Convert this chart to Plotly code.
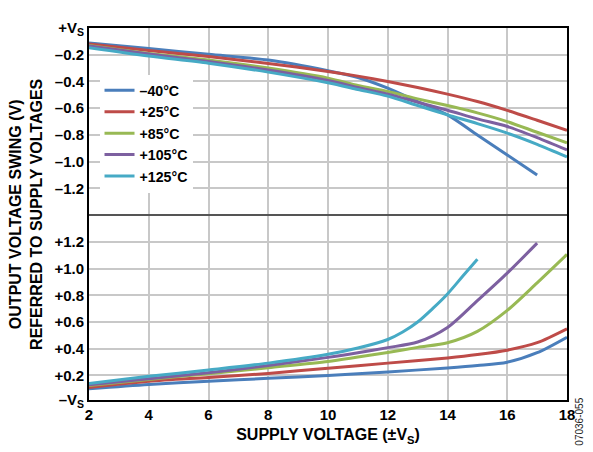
import plotly.graph_objects as go

# ---- data ----
x_up = [2, 4, 6, 8, 10, 11, 12, 13, 14, 15, 16, 17, 18]
up_m40 = [-0.112, -0.153, -0.197, -0.24, -0.32, -0.37, -0.45, -0.55, -0.65, -0.80, -0.95, -1.10]
up_p25 = [-0.12, -0.168, -0.214, -0.265, -0.325, -0.36, -0.40, -0.445, -0.495, -0.55, -0.616, -0.69, -0.766]
up_p85 = [-0.13, -0.19, -0.24, -0.30, -0.375, -0.43, -0.475, -0.53, -0.58, -0.635, -0.70, -0.78, -0.859]
up_p105 = [-0.135, -0.195, -0.25, -0.315, -0.393, -0.445, -0.495, -0.555, -0.615, -0.68, -0.737, -0.82, -0.912]
up_p125 = [-0.148, -0.21, -0.263, -0.33, -0.41, -0.46, -0.51, -0.58, -0.65, -0.715, -0.786, -0.87, -0.964]

x_lo = [2, 4, 6, 8, 10, 12, 14, 15, 16, 17, 18]
lo_m40 = [0.10, 0.132, 0.156, 0.178, 0.200, 0.226, 0.256, 0.274, 0.299, 0.37, 0.486]
lo_p25 = [0.11, 0.156, 0.185, 0.215, 0.254, 0.292, 0.331, 0.356, 0.389, 0.445, 0.549]
x_lo85 = [2, 4, 6, 8, 10, 11, 12, 13, 14, 15, 16, 17, 18]
lo_p85 = [0.125, 0.17, 0.212, 0.258, 0.305, 0.338, 0.372, 0.41, 0.445, 0.53, 0.687, 0.893, 1.106]
x_lo105 = [2, 4, 6, 8, 10, 11, 12, 13, 14, 15, 16, 17]
lo_p105 = [0.13, 0.175, 0.22, 0.275, 0.335, 0.37, 0.408, 0.45, 0.559, 0.76, 0.966, 1.19]
x_lo125 = [2, 4, 6, 8, 10, 11, 12, 12.5, 13, 13.5, 14, 14.5, 15]
lo_p125 = [0.14, 0.193, 0.241, 0.292, 0.358, 0.405, 0.469, 0.525, 0.60, 0.70, 0.81, 0.94, 1.07]

names = ["–40°C", "+25°C", "+85°C", "+105°C", "+125°C"]
colors = ["#4a7ebb", "#be4b48", "#98b954", "#7d60a0", "#46aac5"]
upper = [(x_up, up_m40), (x_up, up_p25), (x_up, up_p85), (x_up, up_p105), (x_up, up_p125)]
lower = [(x_lo, lo_m40), (x_lo, lo_p25), (x_lo85, lo_p85), (x_lo105, lo_p105), (x_lo125, lo_p125)]

x_ticks = [2, 4, 6, 8, 10, 12, 14, 16, 18]
up_tickvals = [0, -0.2, -0.4, -0.6, -0.8, -1.0, -1.2]
up_ticktext = ["+V<sub>S</sub>", "–0.2", "–0.4", "–0.6", "–0.8", "–1.0", "–1.2"]
lo_tickvals = [0.016, 0.2, 0.4, 0.6, 0.8, 1.0, 1.2]
lo_ticktext = ["–V<sub>S</sub>", "+0.2", "+0.4", "+0.6", "+0.8", "+1.0", "+1.2"]

FONT = "Liberation Sans, Arial, Helvetica, sans-serif"
SPLIT = 0.497

fig = go.Figure()
for name, col, (xu, yu), (xl, yl) in zip(names, colors, upper, lower):
    fig.add_trace(go.Scatter(x=xu[:len(yu)], y=yu, xaxis="x2", yaxis="y2", mode="lines",
                             line=dict(color=col, width=3, shape="spline", smoothing=0.8),
                             name=name, legendgroup=name, showlegend=True))
    fig.add_trace(go.Scatter(x=xl, y=yl, xaxis="x", yaxis="y", mode="lines",
                             line=dict(color=col, width=3, shape="spline", smoothing=0.8),
                             name=name, legendgroup=name, showlegend=False))

grid = "#c8c8c8"
tf = dict(family=FONT, size=15, color="black", weight="bold")
titlef = dict(family=FONT, size=16, color="black", weight="bold")
fig.update_layout(
    width=585, height=444,
    margin=dict(l=81, r=26, t=11, b=51),
    paper_bgcolor="white", plot_bgcolor="white",
    font=dict(family=FONT, size=15, color="black", weight="bold"),
    showlegend=True,
    legend=dict(x=0.022, y=0.875, xanchor="left", yanchor="top", bgcolor="white",
                font=dict(family=FONT, size=14.2, color="black", weight="bold"),
                tracegroupgap=0, itemwidth=30),
    xaxis=dict(domain=[0, 1], anchor="y", range=[2, 18], tickvals=x_ticks,
               showgrid=True, gridcolor=grid, gridwidth=1.5, zeroline=False,
               showline=True, linecolor="black", linewidth=2, ticks="",
               tickfont=tf,
               title=dict(text="SUPPLY VOLTAGE (±V<sub>S</sub>)", font=titlef, standoff=7)),
    xaxis2=dict(domain=[0, 1], anchor="y2", matches="x", range=[2, 18], tickvals=x_ticks,
                showgrid=True, gridcolor=grid, gridwidth=1.5, zeroline=False,
                showticklabels=False, side="top",
                showline=True, linecolor="black", linewidth=2, ticks=""),
    yaxis=dict(domain=[0, SPLIT], anchor="x", range=[0.016, 1.4], tickvals=lo_tickvals,
               ticktext=lo_ticktext, showgrid=True, gridcolor=grid, gridwidth=1.5,
               zeroline=False, showline=True, mirror=True, linecolor="black",
               linewidth=2, ticks="", tickfont=tf),
    yaxis2=dict(domain=[SPLIT, 1], anchor="x2", range=[-1.4, 0], tickvals=up_tickvals,
                ticktext=up_ticktext, showgrid=True, gridcolor=grid, gridwidth=1.5,
                zeroline=False, showline=True, mirror=True, linecolor="black",
                linewidth=2, ticks="", tickfont=tf),
)

# divider between the two halves
fig.add_shape(type="line", xref="paper", yref="paper", x0=0, x1=1, y0=SPLIT, y1=SPLIT,
              line=dict(color="#555555", width=2))

fig.add_annotation(text="OUTPUT VOLTAGE SWING (V)<br>REFERRED TO SUPPLY VOLTAGES",
                   xref="paper", yref="paper", x=-0.132, y=0.5, xanchor="center",
                   yanchor="middle", textangle=-90, showarrow=False,
                   font=titlef)
fig.add_annotation(text="07036-055", xref="paper", yref="paper", x=1.043, y=-0.058,
                   xanchor="right", yanchor="middle", textangle=-90, showarrow=False,
                   font=dict(family=FONT, size=10, color="#222222", weight="normal"))

fig.write_html("out.html")
